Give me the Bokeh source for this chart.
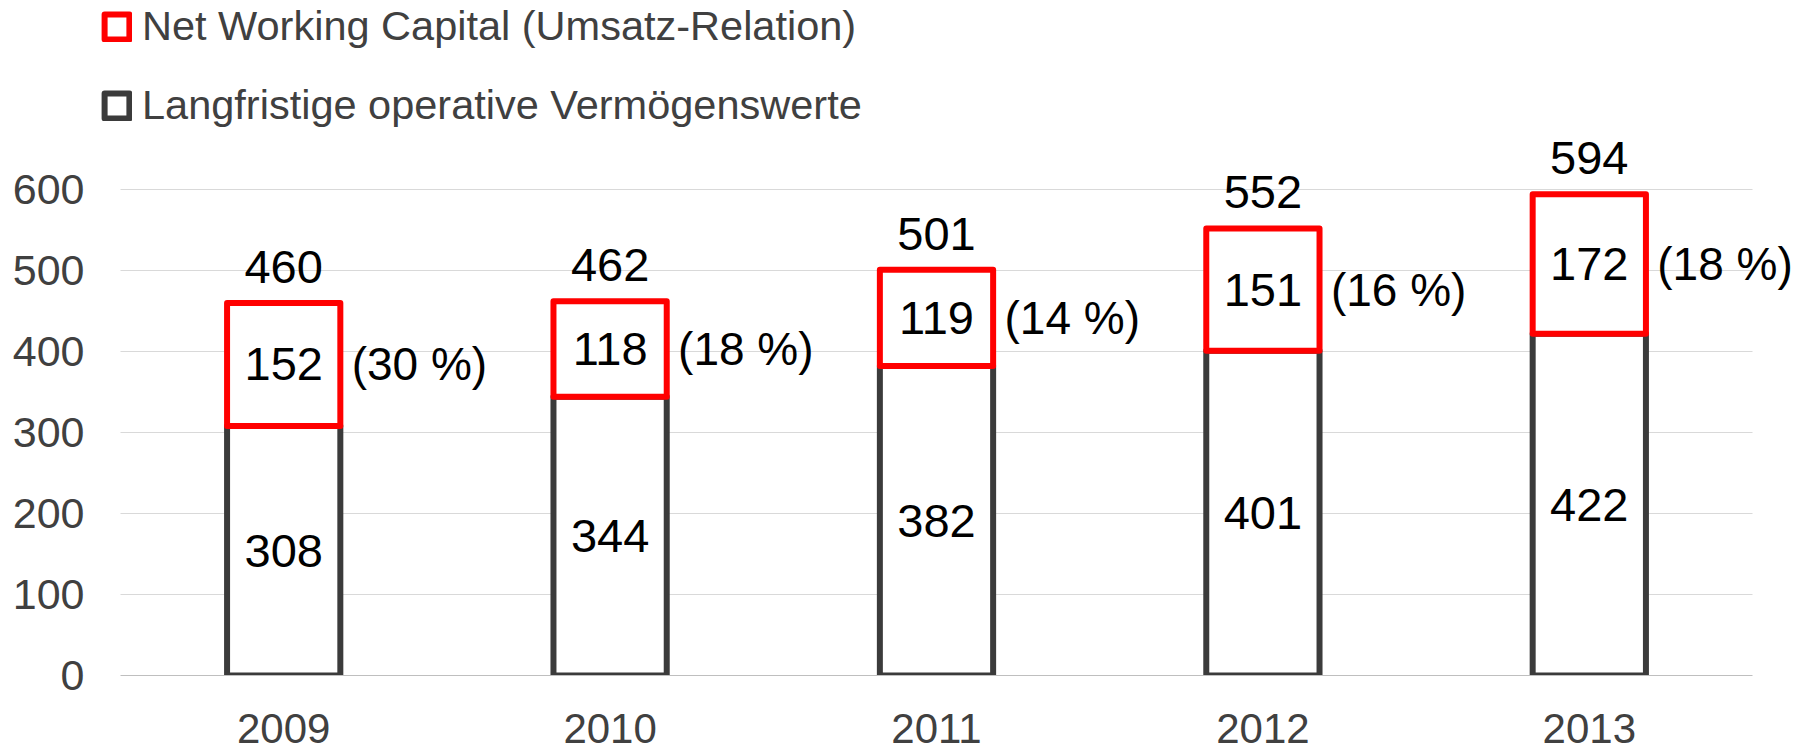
from bokeh.plotting import figure
from bokeh.models import (ColumnDataSource, FactorRange, FixedTicker, Legend, LegendItem,
                          Range1d, LabelSet, BoxAnnotation)
from bokeh.core.properties import value
from bokeh.embed import file_html
from bokeh.resources import INLINE

# ---- data ----
years = ["2009", "2010", "2011", "2012", "2013"]
long_term = [308, 344, 382, 401, 422]          # Langfristige operative Vermögenswerte
nwc = [152, 118, 119, 151, 172]                # Net Working Capital
totals = [460, 462, 501, 552, 594]
nwc_pct = [30, 18, 14, 16, 18]                 # Umsatz-Relation in %
y_ticks = [0, 100, 200, 300, 400, 500, 600]

FONT = "Liberation Sans"

stack_top = [a + b for a, b in zip(long_term, nwc)]
src = ColumnDataSource(dict(
    year=years,
    long=long_term,
    top=stack_top,
    total=totals,
    mid_long=[v / 2 for v in long_term],
    mid_nwc=[a + b / 2 for a, b in zip(long_term, nwc)],
    long_lbl=[str(v) for v in long_term],
    nwc_lbl=[str(v) for v in nwc],
    total_lbl=[str(v) for v in totals],
    pct_lbl=["(%d %%)" % v for v in nwc_pct],
))

PAD = 48 / 326.4
p = figure(x_range=FactorRange(*years, range_padding=PAD, range_padding_units="absolute"),
           y_range=Range1d(0, 675 / 0.81),
           width=1800, height=755,
           output_backend="svg", toolbar_location=None,
           min_border_left=72, min_border_right=0, min_border_top=0, min_border_bottom=80)
p.outline_line_color = None
p.background_fill_color = "white"
p.border_fill_color = "white"

# grid lines only run across the category area
p.add_layout(BoxAnnotation(right=0, fill_color="white", fill_alpha=1, line_color=None, level="underlay"))
p.add_layout(BoxAnnotation(left=len(years), fill_color="white", fill_alpha=1, line_color=None, level="underlay"))

BAR_W = 0.347
r_long = p.vbar(x="year", bottom=0, top="long", width=BAR_W, source=src,
                fill_color="white", line_color="#3b3b3b", line_width=6, line_join="round")
r_nwc = p.vbar(x="year", bottom="long", top="top", width=BAR_W, source=src,
               fill_color="white", line_color="#ff0000", line_width=6, line_join="round")

txt = dict(source=src, text_font=value(FONT), text_font_size=value("47px"), text_color="black")
p.text(x="year", y="mid_long", text="long_lbl", text_align="center", text_baseline="middle", **txt)
p.text(x="year", y="mid_nwc", text="nwc_lbl", text_align="center", text_baseline="middle", **txt)

pct_txt = dict(txt, text_font_size=value("46px"))
p.add_layout(LabelSet(x="year", y="mid_nwc", text="pct_lbl", x_offset=68,
                      text_align="left", text_baseline="middle", **pct_txt))
p.add_layout(LabelSet(x="year", y="total", text="total_lbl", y_offset=20,
                      text_align="center", text_baseline="alphabetic", **txt))

# axes
p.yaxis.ticker = FixedTicker(ticks=y_ticks)
p.yaxis.axis_line_color = None
p.yaxis.major_tick_line_color = None
p.yaxis.minor_tick_line_color = None
p.yaxis.major_tick_out = 0
p.yaxis.major_tick_in = 0
p.yaxis.major_label_standoff = -12
p.yaxis.major_label_text_font = FONT
p.yaxis.major_label_text_font_size = "43px"
p.yaxis.major_label_text_color = "#404040"

p.xaxis.bounds = (0, len(years))
p.xaxis.axis_line_color = "#bfbfbf"
p.xaxis.axis_line_width = 1
p.xaxis.major_tick_line_color = None
p.xaxis.minor_tick_line_color = None
p.xaxis.major_tick_out = 0
p.xaxis.major_tick_in = 0
p.xaxis.major_label_standoff = 38
p.xaxis.major_label_text_font = FONT
p.xaxis.major_label_text_font_size = "42px"
p.xaxis.major_label_text_color = "#404040"

p.xgrid.visible = False
p.ygrid.grid_line_color = "#d9d9d9"
p.ygrid.grid_line_width = 1

legend = Legend(items=[
    LegendItem(label="Net Working Capital (Umsatz-Relation)", renderers=[r_nwc]),
    LegendItem(label="Langfristige operative Vermögenswerte", renderers=[r_long]),
], location=(29, 546), orientation="vertical")
legend.label_text_font = FONT
legend.label_text_font_size = "41.5px"
legend.label_text_color = "#404040"
legend.glyph_width = 31
legend.glyph_height = 31
legend.label_height = 31
legend.label_standoff = 10
legend.spacing = 31
legend.padding = 0
legend.margin = 0
legend.border_line_alpha = 0
legend.background_fill_alpha = 0
p.add_layout(legend, "center")

open("out.html", "w").write(file_html(p, INLINE))
